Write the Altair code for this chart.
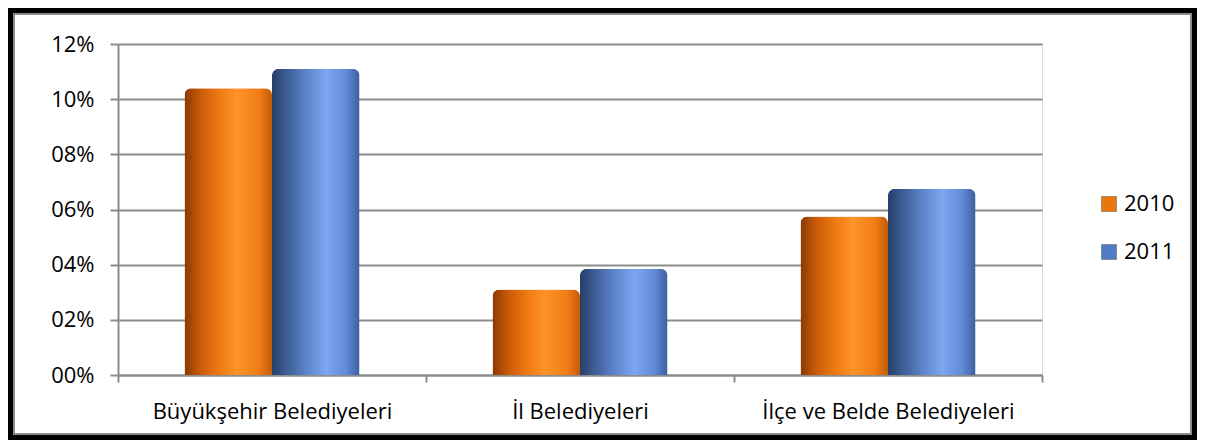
import altair as alt
import pandas as pd

categories = ["Büyükşehir Belediyeleri", "İl Belediyeleri", "İlçe ve Belde Belediyeleri"]
years = ["2010", "2011"]
values_2010 = [10.4, 3.1, 5.75]
values_2011 = [11.1, 3.85, 6.75]

rows = []
for c, v in zip(categories, values_2010):
    rows.append({"kategori": c, "yil": "2010", "deger": v})
for c, v in zip(categories, values_2011):
    rows.append({"kategori": c, "yil": "2011", "deger": v})
df = pd.DataFrame(rows)

FONT = "Open Sans"
FS = 22
W, H = 924, 331
PL, PT, PR, PB = 110, 36, 155, 65

orange_grad = alt.Gradient(
    gradient="linear", x1=0, x2=1, y1=0, y2=0,
    stops=[
        alt.GradientStop(color="#8a3a02", offset=0),
        alt.GradientStop(color="#c95a08", offset=0.18),
        alt.GradientStop(color="#f07a12", offset=0.4),
        alt.GradientStop(color="#ff9428", offset=0.6),
        alt.GradientStop(color="#f07d15", offset=0.85),
        alt.GradientStop(color="#c55a08", offset=1),
    ],
)
blue_grad = alt.Gradient(
    gradient="linear", x1=0, x2=1, y1=0, y2=0,
    stops=[
        alt.GradientStop(color="#263f6a", offset=0),
        alt.GradientStop(color="#3f5f98", offset=0.18),
        alt.GradientStop(color="#5f86cc", offset=0.4),
        alt.GradientStop(color="#7da6f0", offset=0.62),
        alt.GradientStop(color="#628bd6", offset=0.85),
        alt.GradientStop(color="#3c5f9e", offset=1),
    ],
)

x_enc = alt.X(
    "kategori:N",
    sort=categories,
    title=None,
    scale=alt.Scale(paddingInner=0, paddingOuter=0),
    axis=alt.Axis(
        labelAngle=0, labelFont=FONT, labelFontSize=FS, labelColor="#000000",
        labelPadding=19, labelLimit=0, domainColor="#8c8c8c", domainWidth=2,
        tickColor="#8c8c8c", tickWidth=2, tickSize=7, tickBand="extent",
        grid=False,
    ),
)
xoff = alt.XOffset("yil:N", sort=years,
                   scale=alt.Scale(domain=years, paddingInner=0, paddingOuter=0.76))
y_enc = alt.Y(
    "deger:Q",
    title=None,
    scale=alt.Scale(domain=[0, 12], nice=False),
    axis=alt.Axis(
        values=[0, 2, 4, 6, 8, 10, 12],
        labelExpr="(datum.value < 10 ? '0' : '') + datum.value + '%'",
        labelFont=FONT, labelFontSize=FS, labelColor="#000000", labelPadding=16,
        grid=True, gridColor="#8c8c8c", gridWidth=2,
        domainColor="#8c8c8c", domainWidth=2,
        tickColor="#8c8c8c", tickWidth=2, tickSize=8,
    ),
)

base = alt.Chart(df)

bars_2010 = base.transform_filter("datum.yil == '2010'").mark_bar(
    fill=orange_grad, cornerRadiusTopLeft=7, cornerRadiusTopRight=7
).encode(x=x_enc, xOffset=xoff, y=y_enc)

bars_2011 = base.transform_filter("datum.yil == '2011'").mark_bar(
    fill=blue_grad, cornerRadiusTopLeft=7, cornerRadiusTopRight=7
).encode(x=x_enc, xOffset=xoff, y=y_enc)

legend_layer = base.mark_square(opacity=0, size=0).encode(
    x=x_enc, y=y_enc,
    color=alt.Color(
        "yil:N", sort=years, title=None,
        scale=alt.Scale(domain=years, range=["#e8770e", "#4f7bc8"]),
        legend=alt.Legend(
            orient="none", legendX=980, legendY=149,
            symbolType="square", symbolSize=225, symbolOpacity=1,
            symbolStrokeColor="#555555", symbolStrokeWidth=0.5,
            labelFont=FONT, labelFontSize=FS, labelColor="#000000",
            labelOffset=4, rowPadding=26, padding=0,
        ),
    ),
)

frame_df = pd.DataFrame({"k": [0]})
outer = alt.Chart(frame_df).mark_rect(fill=None, stroke="#000000", strokeWidth=5).encode(
    x=alt.value(-PL + 2.5), x2=alt.value(W + PR - 2.5),
    y=alt.value(-PT + 2.5), y2=alt.value(H + PB - 2.5),
)
inner = alt.Chart(frame_df).mark_rect(fill=None, stroke="#8c8c8c", strokeWidth=2).encode(
    x=alt.value(-PL + 6), x2=alt.value(W + PR - 6),
    y=alt.value(-PT + 6), y2=alt.value(H + PB - 6),
)

chart = alt.layer(bars_2010, bars_2011, legend_layer, outer, inner).properties(
    width=W, height=H,
    autosize=alt.AutoSizeParams(type="none"),
    padding={"left": PL, "top": PT, "right": PR, "bottom": PB},
).configure_view(stroke=None).configure(background="#ffffff")

chart.save("out.html", embed_options={"renderer": "svg", "actions": False})
